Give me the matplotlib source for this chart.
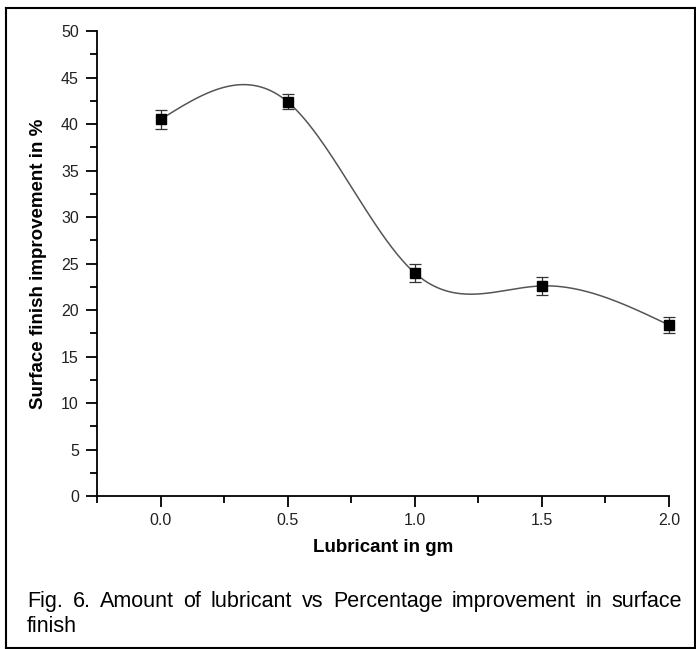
import numpy as np
import matplotlib.pyplot as plt
from matplotlib.lines import Line2D

# data
lubricant = [0.0, 0.5, 1.0, 1.5, 2.0]
improvement = [40.5, 42.4, 24.0, 22.6, 18.4]
err = [1.05, 0.8, 0.95, 1.0, 0.9]

x_ticks = [0.0, 0.5, 1.0, 1.5, 2.0]
y_ticks = [0, 5, 10, 15, 20, 25, 30, 35, 40, 45, 50]
caption_line1 = "Fig. 6. Amount of lubricant vs Percentage improvement in surface"
caption_line2 = "finish"


def natural_spline(x, y, n=300):
    # natural cubic spline, same idea as the smooth line in Origin
    x = np.asarray(x, float)
    y = np.asarray(y, float)
    k = len(x)
    h = np.diff(x)
    A = np.zeros((k, k))
    b = np.zeros(k)
    A[0, 0] = 1
    A[-1, -1] = 1
    for i in range(1, k - 1):
        A[i, i - 1] = h[i - 1]
        A[i, i] = 2 * (h[i - 1] + h[i])
        A[i, i + 1] = h[i]
        b[i] = 6 * ((y[i + 1] - y[i]) / h[i] - (y[i] - y[i - 1]) / h[i - 1])
    M = np.linalg.solve(A, b)
    xs = np.linspace(x[0], x[-1], n)
    idx = np.clip(np.searchsorted(x, xs) - 1, 0, k - 2)
    x0, x1 = x[idx], x[idx + 1]
    hh = x1 - x0
    ys = (M[idx] * (x1 - xs) ** 3 / (6 * hh) + M[idx + 1] * (xs - x0) ** 3 / (6 * hh)
          + (y[idx] / hh - M[idx] * hh / 6) * (x1 - xs)
          + (y[idx + 1] / hh - M[idx + 1] * hh / 6) * (xs - x0))
    return xs, ys


def justified_line(fig, text, x0, x1, y, **kw):
    # spread the words so the line fills x0..x1 (figure fraction)
    words = text.split()
    objs = [fig.text(0, y, w, va='baseline', ha='left', **kw) for w in words]
    r = fig.canvas.get_renderer()
    fw = fig.get_figwidth() * fig.dpi
    widths = [o.get_window_extent(renderer=r).width / fw for o in objs]
    gap = (x1 - x0 - sum(widths)) / (len(words) - 1)
    pos = x0
    for o, w in zip(objs, widths):
        o.set_x(pos)
        pos += w + gap


plt.rcParams['font.family'] = ['Liberation Sans', 'DejaVu Sans']

fig = plt.figure(figsize=(6.96, 6.49), dpi=100)
ax = fig.add_axes([0.1394, 0.2357, 0.8216, 0.7163])

xs, ys = natural_spline(lubricant, improvement)
ax.plot(xs, ys, color='#555555', linewidth=1.1, zorder=2)
ax.errorbar(lubricant, improvement, yerr=err, fmt='s', color='black',
            ecolor='#333333', elinewidth=0.9, capsize=4, capthick=0.9,
            markersize=6.5, zorder=3, clip_on=False)

ax.set_xlim(-0.25, 2.0)
ax.set_ylim(0, 50)
ax.set_xticks(x_ticks)
ax.set_xticklabels([f"{v:.1f}" for v in x_ticks])
ax.set_xticks([-0.25, 0.25, 0.75, 1.25, 1.75], minor=True)
ax.set_yticks(y_ticks)
ax.set_yticks(np.arange(2.5, 50, 5), minor=True)

ax.spines['top'].set_visible(False)
ax.spines['right'].set_visible(False)
ax.spines['left'].set_linewidth(1.3)
ax.spines['bottom'].set_linewidth(1.3)
ax.tick_params(which='major', direction='out', length=8, width=1.3, labelsize=11.5,
               pad=5, labelcolor='#222222')
ax.tick_params(which='minor', direction='out', length=5, width=1.3)
ax.tick_params(axis='x', pad=4)

ax.set_xlabel('Lubricant in gm', fontsize=13.5, fontweight='bold', labelpad=8)
ax.set_ylabel('Surface finish improvement in %', fontsize=13.5, fontweight='bold', labelpad=10)

# caption below the plot, justified first line
justified_line(fig, caption_line1, 0.039, 0.980, 0.065, fontsize=15.5)
fig.text(0.039, 0.026, caption_line2, fontsize=15.5, va='baseline', ha='left')

# frame round the whole figure (left, top, right, bottom)
W, H = 696.0, 649.0
left, top, right, bottom = 6 / W, 1 - 8 / H, 1 - 1.5 / W, 1.5 / H
for xa, ya in [((left, left), (bottom, top)), ((left, right), (top, top)),
               ((right, right), (bottom, top)), ((left, right), (bottom, bottom))]:
    fig.add_artist(Line2D(xa, ya, transform=fig.transFigure, color='black', linewidth=1.5))

fig.savefig('out.png', dpi=100)
